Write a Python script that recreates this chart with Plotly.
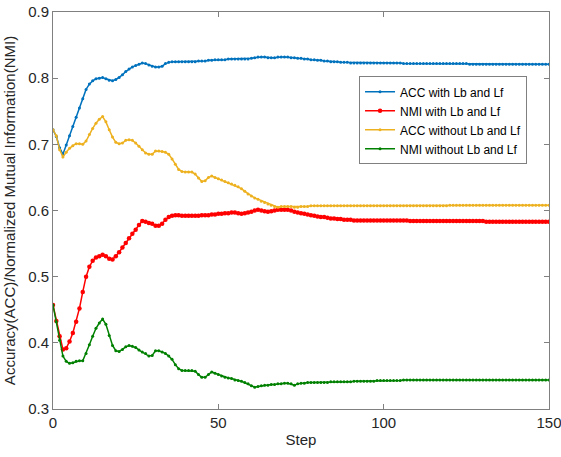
import plotly.graph_objects as go

steps = list(range(151))

acc_with = [
    0.722, 0.712, 0.695, 0.685, 0.699, 0.713, 0.727, 0.741, 0.755, 0.769,
    0.783, 0.791, 0.796, 0.799, 0.800, 0.801, 0.799, 0.797, 0.796, 0.798,
    0.801, 0.805, 0.810, 0.814, 0.817, 0.819, 0.821, 0.823, 0.822, 0.820,
    0.818, 0.817, 0.817, 0.818, 0.822, 0.824, 0.825, 0.825, 0.825, 0.825,
    0.825, 0.825, 0.825, 0.825, 0.826, 0.826, 0.826, 0.827, 0.827, 0.828,
    0.828, 0.828, 0.828, 0.829, 0.829, 0.829, 0.829, 0.829, 0.829, 0.829,
    0.830, 0.831, 0.832, 0.832, 0.832, 0.831, 0.831, 0.831, 0.832, 0.832,
    0.832, 0.832, 0.831, 0.831, 0.830, 0.830, 0.829, 0.829, 0.828, 0.828,
    0.827, 0.827, 0.826, 0.826, 0.825, 0.825, 0.825, 0.824, 0.824, 0.824,
    0.823, 0.823, 0.823, 0.823, 0.823, 0.823, 0.823, 0.823, 0.823, 0.823,
    0.823, 0.823, 0.823, 0.823, 0.823, 0.823, 0.822, 0.822, 0.822, 0.822,
    0.822, 0.822, 0.822, 0.822, 0.822, 0.822, 0.822, 0.822, 0.822, 0.822,
    0.822, 0.822, 0.822, 0.822, 0.822, 0.822, 0.821, 0.821, 0.821, 0.821,
    0.821, 0.821, 0.821, 0.821, 0.821, 0.821, 0.821, 0.821, 0.821, 0.821,
    0.821, 0.821, 0.821, 0.821, 0.821, 0.821, 0.821, 0.821, 0.821, 0.821,
    0.821,
]

nmi_with = [
    0.457, 0.433, 0.410, 0.390, 0.392, 0.402, 0.415, 0.432, 0.452, 0.477,
    0.500, 0.515, 0.524, 0.529, 0.531, 0.533, 0.531, 0.527, 0.526, 0.531,
    0.537, 0.544, 0.551, 0.558, 0.565, 0.571, 0.578, 0.584, 0.583, 0.581,
    0.580, 0.577, 0.577, 0.580, 0.586, 0.590, 0.592, 0.593, 0.593, 0.592,
    0.592, 0.592, 0.592, 0.592, 0.592, 0.593, 0.593, 0.593, 0.594, 0.594,
    0.595, 0.595, 0.596, 0.596, 0.597, 0.597, 0.596, 0.595, 0.596, 0.597,
    0.598, 0.600, 0.601, 0.600, 0.599, 0.598, 0.599, 0.600, 0.601, 0.601,
    0.601, 0.601, 0.600, 0.598, 0.597, 0.596, 0.595, 0.594, 0.593, 0.592,
    0.591, 0.590, 0.590, 0.589, 0.588, 0.588, 0.587, 0.587, 0.586, 0.586,
    0.586, 0.585, 0.585, 0.585, 0.585, 0.585, 0.585, 0.585, 0.585, 0.585,
    0.585, 0.585, 0.585, 0.585, 0.585, 0.585, 0.585, 0.585, 0.584, 0.584,
    0.584, 0.584, 0.584, 0.584, 0.584, 0.584, 0.584, 0.584, 0.584, 0.584,
    0.584, 0.584, 0.584, 0.584, 0.584, 0.584, 0.584, 0.584, 0.584, 0.584,
    0.584, 0.583, 0.583, 0.583, 0.583, 0.583, 0.583, 0.583, 0.583, 0.583,
    0.583, 0.583, 0.583, 0.583, 0.583, 0.583, 0.583, 0.583, 0.583, 0.583,
    0.583,
]

acc_without = [
    0.722, 0.713, 0.692, 0.681, 0.688, 0.694, 0.698, 0.701, 0.701, 0.700,
    0.705, 0.715, 0.724, 0.732, 0.738, 0.742, 0.734, 0.722, 0.711, 0.703,
    0.701, 0.702, 0.706, 0.707, 0.706, 0.702, 0.697, 0.692, 0.687, 0.685,
    0.685, 0.690, 0.690, 0.689, 0.688, 0.685, 0.678, 0.670, 0.662, 0.659,
    0.658, 0.658, 0.658, 0.655, 0.649, 0.644, 0.645, 0.650, 0.652, 0.650,
    0.648, 0.646, 0.644, 0.642, 0.640, 0.638, 0.636, 0.633, 0.629, 0.625,
    0.622, 0.619, 0.617, 0.614, 0.612, 0.610, 0.608, 0.606, 0.605, 0.606,
    0.606, 0.606, 0.606, 0.605, 0.605, 0.606, 0.606, 0.606, 0.607, 0.607,
    0.607, 0.607, 0.607, 0.607, 0.607, 0.607, 0.607, 0.607, 0.607, 0.607,
    0.607, 0.607, 0.607, 0.607, 0.607, 0.607, 0.607, 0.607, 0.607, 0.607,
    0.607, 0.607, 0.607, 0.607, 0.607, 0.607, 0.607, 0.607, 0.607, 0.607,
    0.607, 0.607, 0.607, 0.607, 0.607, 0.607, 0.607, 0.607, 0.607, 0.607,
    0.608, 0.608, 0.608, 0.608, 0.608, 0.608, 0.608, 0.608, 0.608, 0.608,
    0.608, 0.608, 0.608, 0.608, 0.608, 0.608, 0.608, 0.608, 0.608, 0.608,
    0.608, 0.608, 0.608, 0.608, 0.608, 0.608, 0.608, 0.608, 0.608, 0.608,
    0.608,
]

nmi_without = [
    0.457, 0.432, 0.404, 0.380, 0.372, 0.369, 0.370, 0.372, 0.373, 0.373,
    0.384, 0.397, 0.410, 0.422, 0.430, 0.436, 0.428, 0.411, 0.396, 0.388,
    0.387, 0.390, 0.394, 0.396, 0.395, 0.393, 0.389, 0.386, 0.384, 0.380,
    0.381, 0.388, 0.388, 0.386, 0.384, 0.380, 0.375, 0.367, 0.361, 0.358,
    0.358, 0.358, 0.358, 0.357, 0.352, 0.348, 0.348, 0.352, 0.356, 0.354,
    0.352, 0.350, 0.348, 0.347, 0.346, 0.344, 0.343, 0.342, 0.340, 0.338,
    0.335, 0.333, 0.334, 0.335, 0.336, 0.336, 0.337, 0.337, 0.338, 0.338,
    0.339, 0.339, 0.338, 0.336, 0.338, 0.339, 0.339, 0.340, 0.340, 0.340,
    0.340, 0.340, 0.340, 0.340, 0.341, 0.341, 0.341, 0.341, 0.341, 0.341,
    0.341, 0.342, 0.342, 0.342, 0.342, 0.342, 0.342, 0.342, 0.343, 0.343,
    0.343, 0.343, 0.343, 0.343, 0.343, 0.343, 0.344, 0.344, 0.344, 0.344,
    0.344, 0.344, 0.344, 0.344, 0.344, 0.344, 0.344, 0.344, 0.344, 0.344,
    0.344, 0.344, 0.344, 0.344, 0.344, 0.344, 0.344, 0.344, 0.344, 0.344,
    0.344, 0.344, 0.344, 0.344, 0.344, 0.344, 0.344, 0.344, 0.344, 0.344,
    0.344, 0.344, 0.344, 0.344, 0.344, 0.344, 0.344, 0.344, 0.344, 0.344,
    0.344,
]

series_names = [
    "ACC with Lb and Lf",
    "NMI with Lb and Lf",
    "ACC without Lb and Lf",
    "NMI without Lb and Lf",
]
series_values = [acc_with, nmi_with, acc_without, nmi_without]
series_colors = ["#0072BD", "#FF0000", "#EDB120", "#008000"]
marker_sizes = [3, 4.5, 3, 3]

x_ticks = [0, 50, 100, 150]
y_ticks = [0.3, 0.4, 0.5, 0.6, 0.7, 0.8, 0.9]

FONT = "Liberation Sans, Arial, Helvetica, sans-serif"
TEXT = "#262626"
AXIS = "#808080"

fig = go.Figure()
for name, vals, color, ms in zip(series_names, series_values, series_colors, marker_sizes):
    fig.add_trace(go.Scatter(
        x=steps, y=vals, name=name, mode="lines+markers",
        line=dict(color=color, width=1.5),
        marker=dict(color=color, size=ms, symbol="circle"),
    ))

axis_common = dict(
    showgrid=False, zeroline=False, showline=True, linecolor=AXIS, linewidth=1,
    mirror="ticks", ticks="inside", ticklen=5, tickcolor=AXIS,
    tickfont=dict(family=FONT, size=15, color=TEXT),
    automargin=False, ticklabeloverflow="allow",
)

fig.update_xaxes(
    range=[0, 150], tickvals=x_ticks,
    title=dict(text="Step", font=dict(family=FONT, size=15, color=TEXT), standoff=4),
    **axis_common,
)
fig.update_yaxes(
    range=[0.3, 0.9], tickvals=y_ticks, tickformat=".1f",
    title=dict(text="Accuracy(ACC)/Normalized Mutual Information(NMI)",
               font=dict(family=FONT, size=15, color=TEXT), standoff=8),
    **axis_common,
)

fig.update_layout(
    width=561, height=457,
    margin=dict(l=53, r=12, t=12, b=48),
    paper_bgcolor="white", plot_bgcolor="white",
    showlegend=True,
    legend=dict(
        x=0.617, y=0.838, xanchor="left", yanchor="top",
        bgcolor="white", bordercolor=AXIS, borderwidth=1,
        font=dict(family=FONT, size=12, color="#000000"),
        itemwidth=30, tracegroupgap=0,
    ),
)

fig.write_html("out.html")
